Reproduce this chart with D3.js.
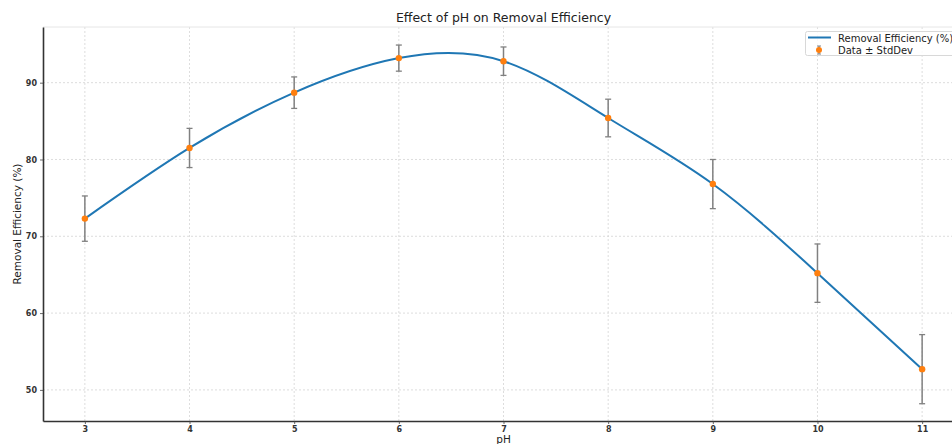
<!DOCTYPE html>
<html>
<head>
<meta charset="utf-8">
<script src="https://cdn.jsdelivr.net/npm/d3@7"></script>
<style>
  html, body { margin: 0; padding: 0; background: #fff; }
  svg { display: block; font-family: "DejaVu Sans", sans-serif; }
</style>
</head>
<body>
<svg id="chart" width="952" height="444"></svg>
<script>
// Measured pH levels, mean removal efficiency (%) and standard deviation
const phLevels   = [3, 4, 5, 6, 7, 8, 9, 10, 11];
const efficiency = [72.3, 81.5, 88.7, 93.2, 92.8, 85.4, 76.8, 65.2, 52.7];
const stdDev     = [2.95, 2.55, 2.05, 1.7, 1.85, 2.45, 3.2, 3.8, 4.5];
const xTicks     = [3, 4, 5, 6, 7, 8, 9, 10, 11];
const yTicks     = [50, 60, 70, 80, 90];

const svg = d3.select("#chart");
const plot = { left: 43, right: 964, top: 27, bottom: 421 };

const x = d3.scaleLinear().domain([2.6, 11.4]).range([plot.left, plot.right]);
const y = d3.scaleLinear().domain([45.95, 97.25]).range([plot.bottom, plot.top]);

const points = phLevels.map((p, i) => ({ ph: p, eff: efficiency[i], sd: stdDev[i] }));

// Grid
const grid = svg.append("g");
grid.selectAll("line.gx").data(xTicks).join("line")
  .attr("x1", d => x(d)).attr("x2", d => x(d))
  .attr("y1", plot.top).attr("y2", plot.bottom)
  .attr("stroke", "#d4d4d4").attr("stroke-width", 0.8).attr("stroke-dasharray", "2,2");
grid.selectAll("line.gy").data(yTicks).join("line")
  .attr("x1", plot.left).attr("x2", plot.right)
  .attr("y1", d => y(d)).attr("y2", d => y(d))
  .attr("stroke", "#d4d4d4").attr("stroke-width", 0.8).attr("stroke-dasharray", "2,2");

// Light top frame
svg.append("line")
  .attr("x1", plot.left).attr("x2", plot.right)
  .attr("y1", plot.top).attr("y2", plot.top)
  .attr("stroke", "#e6e6e6").attr("stroke-width", 1);

// Axes
const xAxis = svg.append("g")
  .attr("transform", `translate(0,${plot.bottom})`)
  .call(d3.axisBottom(x).tickValues(xTicks).tickSize(3).tickSizeOuter(0).tickPadding(2));
const yAxis = svg.append("g")
  .attr("transform", `translate(${plot.left},0)`)
  .call(d3.axisLeft(y).tickValues(yTicks).tickSize(3).tickSizeOuter(0).tickPadding(3));

[xAxis, yAxis].forEach(ax => {
  ax.select(".domain").attr("stroke", "#333").attr("stroke-width", 1.6);
  ax.selectAll(".tick line").attr("stroke", "#444").attr("stroke-width", 0.8);
  ax.selectAll(".tick text").attr("fill", "#333").attr("font-size", 8)
    .attr("font-family", "DejaVu Sans, sans-serif").attr("font-weight", "bold");
});

// Fitted smooth curve through the means
const line = d3.line()
  .x(d => x(d.ph)).y(d => y(d.eff))
  .curve(d3.curveNatural);
svg.append("path")
  .datum(points)
  .attr("d", line)
  .attr("fill", "none")
  .attr("stroke", "#1f77b4")
  .attr("stroke-width", 2);

// Error bars
const eb = svg.append("g").selectAll("g").data(points).join("g");
eb.append("line")
  .attr("x1", d => x(d.ph)).attr("x2", d => x(d.ph))
  .attr("y1", d => y(d.eff - d.sd)).attr("y2", d => y(d.eff + d.sd))
  .attr("stroke", "#808080").attr("stroke-width", 1.5);
["-", "+"].forEach(s => {
  eb.append("line")
    .attr("x1", d => x(d.ph) - 3).attr("x2", d => x(d.ph) + 3)
    .attr("y1", d => y(s === "+" ? d.eff + d.sd : d.eff - d.sd))
    .attr("y2", d => y(s === "+" ? d.eff + d.sd : d.eff - d.sd))
    .attr("stroke", "#808080").attr("stroke-width", 1.3);
});
eb.append("circle")
  .attr("cx", d => x(d.ph)).attr("cy", d => y(d.eff))
  .attr("r", 3.2).attr("fill", "#ff7f0e");

// Title and axis labels
svg.append("text")
  .attr("x", (plot.left + plot.right) / 2).attr("y", 22)
  .attr("text-anchor", "middle").attr("font-size", 12.5).attr("fill", "#222")
  .text("Effect of pH on Removal Efficiency");
svg.append("text")
  .attr("x", (plot.left + plot.right) / 2).attr("y", 443)
  .attr("text-anchor", "middle").attr("font-size", 10.5).attr("fill", "#222")
  .text("pH");
svg.append("text")
  .attr("transform", `translate(21,${(plot.top + plot.bottom) / 2}) rotate(-90)`)
  .attr("text-anchor", "middle").attr("font-size", 10.5).attr("fill", "#222")
  .text("Removal Efficiency (%)");

// Legend
const lg = svg.append("g");
lg.append("rect")
  .attr("x", 805.5).attr("y", 31.5).attr("width", 170).attr("height", 24)
  .attr("fill", "#fff").attr("fill-opacity", 0.85)
  .attr("stroke", "#d8d8d8").attr("stroke-width", 1).attr("rx", 2);
lg.append("line")
  .attr("x1", 808).attr("x2", 831).attr("y1", 37.5).attr("y2", 37.5)
  .attr("stroke", "#1f77b4").attr("stroke-width", 2);
lg.append("line")
  .attr("x1", 819).attr("x2", 819).attr("y1", 46).attr("y2", 54)
  .attr("stroke", "#808080").attr("stroke-width", 1.2);
[46, 54].forEach(yy => lg.append("line")
  .attr("x1", 817).attr("x2", 821).attr("y1", yy).attr("y2", yy)
  .attr("stroke", "#808080").attr("stroke-width", 1));
lg.append("circle").attr("cx", 819).attr("cy", 50).attr("r", 3).attr("fill", "#ff7f0e");
lg.append("text").attr("x", 838).attr("y", 41.5)
  .attr("font-size", 10).attr("fill", "#222").text("Removal Efficiency (%)");
lg.append("text").attr("x", 838).attr("y", 53.5)
  .attr("font-size", 10).attr("fill", "#222").text("Data ± StdDev");
</script>
</body>
</html>
